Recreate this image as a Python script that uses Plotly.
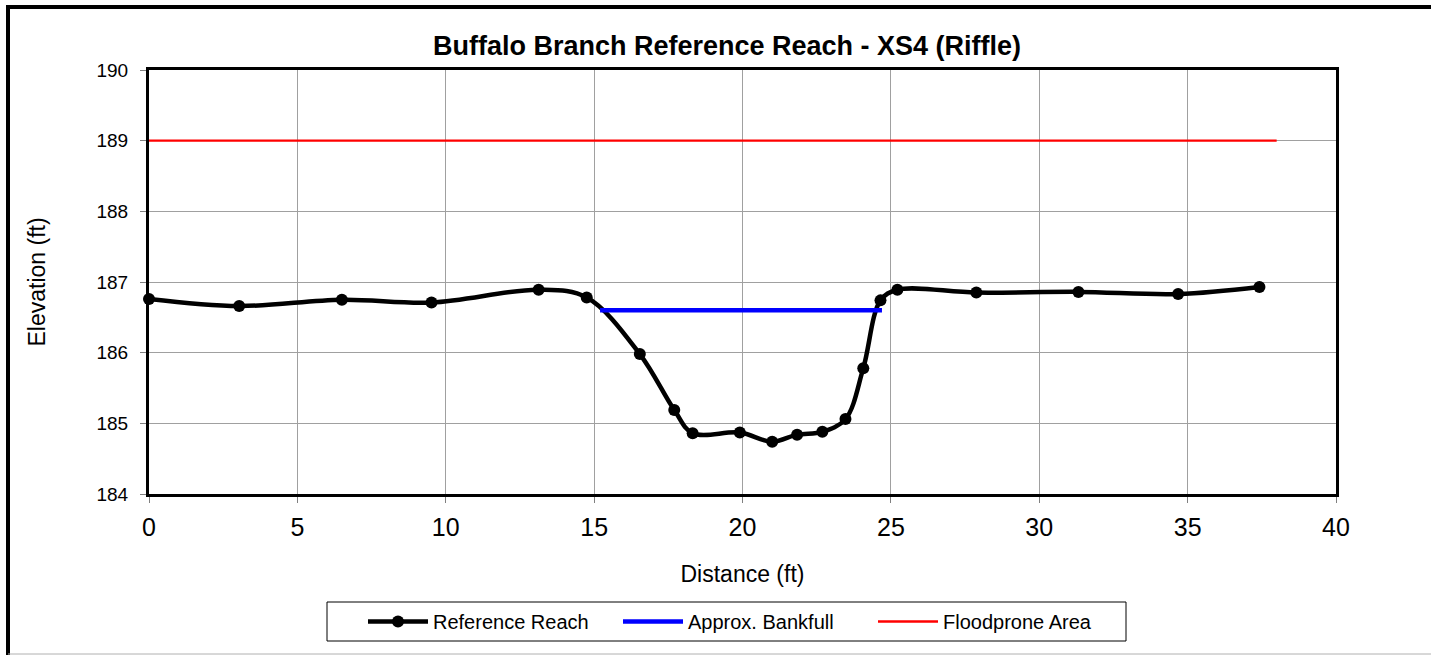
import plotly.graph_objects as go

# Surveyed cross-section XS4 (riffle)
station_ft = [0, 3.04, 6.5, 9.52, 13.13, 14.75, 16.54, 17.70, 18.32, 19.91, 21.0,
              21.84, 22.69, 23.47, 24.07, 24.65, 25.22, 27.88, 31.32, 34.68, 37.42]
elevation_ft = [186.76, 186.66, 186.75, 186.71, 186.89, 186.78, 185.98, 185.19, 184.86, 184.87, 184.74,
                184.84, 184.88, 185.06, 185.78, 186.74, 186.89, 186.85, 186.86, 186.83, 186.93]

# Approximate bankfull stage
bankfull_x = [15.2, 24.7]
bankfull_y = [186.6, 186.6]

# Floodprone area elevation
floodprone_x = [0, 38]
floodprone_y = [189, 189]

FONT = "Arial, Liberation Sans, sans-serif"

fig = go.Figure()

fig.add_trace(go.Scatter(
    x=station_ft, y=elevation_ft, name="Reference Reach",
    mode="lines+markers",
    line=dict(color="#000000", width=4.5, shape="spline", smoothing=1.0),
    marker=dict(color="#000000", size=12),
    cliponaxis=False,
))
fig.add_trace(go.Scatter(
    x=bankfull_x, y=bankfull_y, name="Approx. Bankfull",
    mode="lines", line=dict(color="#0000FF", width=4.5),
))
fig.add_trace(go.Scatter(
    x=floodprone_x, y=floodprone_y, name="Floodprone Area",
    mode="lines", line=dict(color="#FF0000", width=2.3),
))

W, H = 1431, 655
L, R, T, B = 149, 95, 70, 161
pw, ph = W - L - R, H - T - B


def px_x(px):
    return (px - L) / pw


def px_y(py):
    return (H - B - py) / ph


fig.update_layout(
    width=W, height=H,
    margin=dict(l=L, r=R, t=T, b=B),
    paper_bgcolor="white", plot_bgcolor="white",
    font=dict(family=FONT, color="#000000"),
    title=dict(
        text="<b>Buffalo Branch Reference Reach - XS4 (Riffle)</b>",
        font=dict(size=27, family=FONT, color="#000000"),
        x=727 / W, xanchor="center", xref="container",
        y=1 - 46 / H, yanchor="middle", yref="container",
    ),
    xaxis=dict(
        range=[0, 40], dtick=5, tick0=0,
        showgrid=True, gridcolor="#a0a0a0", gridwidth=1,
        showline=True, linecolor="#000000", linewidth=3, mirror=True,
        ticks="outside", ticklen=6, tickcolor="#808080", tickwidth=1,
        tickfont=dict(size=25, family=FONT),
        ticklabelstandoff=3,
        zeroline=False,
        title=dict(text="Distance (ft)", font=dict(size=23, family=FONT), standoff=26),
    ),
    yaxis=dict(
        range=[184, 190], dtick=1, tick0=184,
        showgrid=True, gridcolor="#a0a0a0", gridwidth=1,
        showline=True, linecolor="#000000", linewidth=3, mirror=True,
        ticks="outside", ticklen=6, tickcolor="#808080", tickwidth=1,
        tickfont=dict(size=19, family=FONT),
        ticklabelstandoff=8,
        zeroline=False,
        title=dict(text="Elevation (ft)", font=dict(size=23, family=FONT), standoff=45),
    ),
    legend=dict(
        orientation="h",
        x=px_x(363), xanchor="left",
        y=px_y(602), yanchor="top",
        borderwidth=0,
        bgcolor="rgba(0,0,0,0)",
        font=dict(size=20, family=FONT),
        entrywidth=180, entrywidthmode="pixels",
        itemwidth=60,
    ),
    showlegend=True,
)

# Legend frame
fig.add_shape(type="rect", xref="paper", yref="paper",
              x0=px_x(327), x1=px_x(1126), y0=px_y(641), y1=px_y(602),
              line=dict(color="#000000", width=1), fillcolor="rgba(0,0,0,0)")

# Chart-area frame: heavy top/left edges, light bottom edge
fig.add_shape(type="line", xref="paper", yref="paper",
              x0=px_x(8), x1=px_x(W + 5), y0=px_y(7), y1=px_y(7),
              line=dict(color="#000000", width=4))
fig.add_shape(type="line", xref="paper", yref="paper",
              x0=px_x(8), x1=px_x(8), y0=px_y(5), y1=px_y(H + 5),
              line=dict(color="#000000", width=4))
fig.add_shape(type="line", xref="paper", yref="paper",
              x0=px_x(8), x1=px_x(W + 5), y0=px_y(654), y1=px_y(654),
              line=dict(color="#b0b0b0", width=1))

fig.write_html("out.html")
